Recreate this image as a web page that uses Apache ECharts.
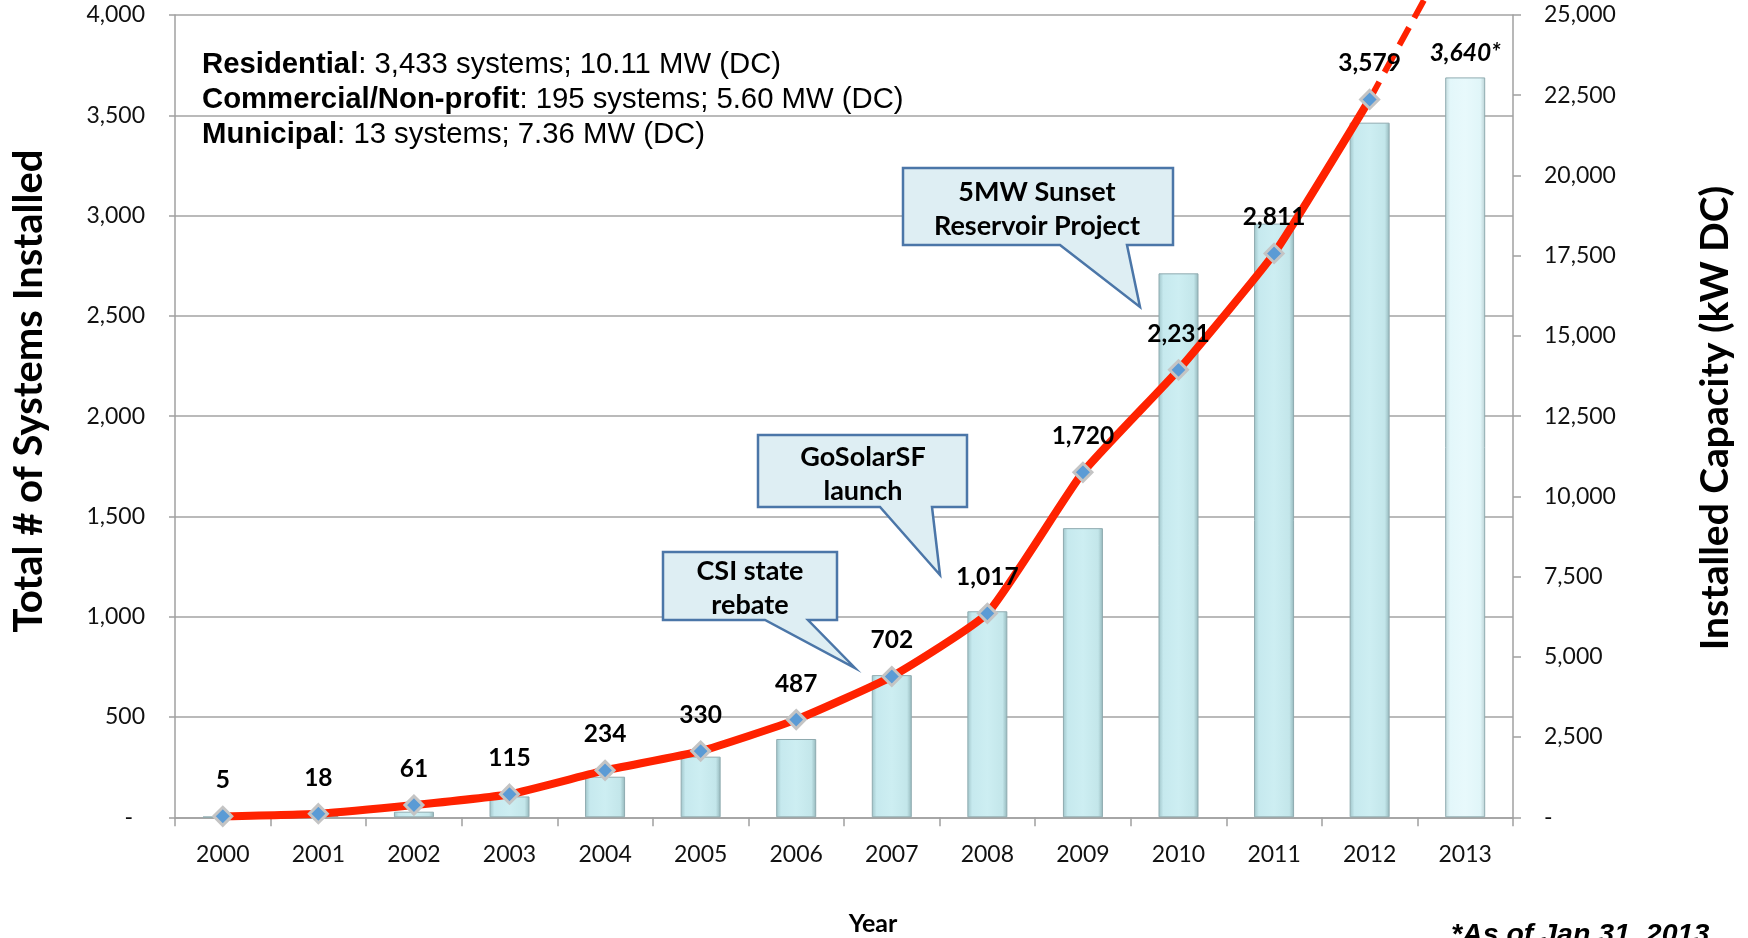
<!DOCTYPE html>
<html>
<head>
<meta charset="utf-8">
<script src="https://cdn.jsdelivr.net/npm/echarts@6/dist/echarts.min.js"></script>
<style>
html,body{margin:0;padding:0;background:#fff;}
#c{width:1748px;height:938px;}
</style>
</head>
<body>
<div id="c"></div>
<script>
// ---- data ----
const years = ['2000','2001','2002','2003','2004','2005','2006','2007','2008','2009','2010','2011','2012','2013'];
const systemsInstalled = [5, 18, 61, 115, 234, 330, 487, 702, 1017, 1720, 2231, 2811, 3579, 3640];
const capacityKW = [15, 50, 175, 650, 1265, 1890, 2440, 4430, 6420, 9010, 16950, 18500, 21645, 23055];
const projection2013 = 4450; // end of hand-drawn dashed trend (runs off the chart top)
const leftTicks = {min: 0, max: 4000, interval: 500};
const rightTicks = {min: 0, max: 25000, interval: 2500};

const fmt = v => v === 0 ? '-' : Number(v).toLocaleString('en-US');
const LAST = years.length - 1;

const chart = echarts.init(document.getElementById('c'), null, {renderer: 'canvas'});

const barGrad = new echarts.graphic.LinearGradient(0, 0, 1, 0, [
  {offset: 0, color: '#9fc4c9'},
  {offset: 0.12, color: '#c6e9ee'},
  {offset: 0.5, color: '#cdeef2'},
  {offset: 0.88, color: '#c3e6ea'},
  {offset: 1, color: '#93b6ba'}
]);
const barGradLight = new echarts.graphic.LinearGradient(0, 0, 1, 0, [
  {offset: 0, color: '#c2dadd'},
  {offset: 0.12, color: '#e3f7fa'},
  {offset: 0.5, color: '#e8f9fc'},
  {offset: 0.88, color: '#e0f5f8'},
  {offset: 1, color: '#b9d0d3'}
]);

const lineData = systemsInstalled.map((v, i) => i < LAST ? v : null);
const lastLabelData = systemsInstalled.map((v, i) => i === LAST ? v : null);
const trendData = systemsInstalled.map((v, i) => i === LAST - 1 ? v : (i === LAST ? projection2013 : null));
const barData = capacityKW.map((v, i) => i === LAST ? {value: v, itemStyle: {color: barGradLight}} : v);

const calibri = 'Lato';
const axisLabelStyle = {fontFamily: calibri, fontSize: 23, color: '#111'};

function callout(points, cx, cy, text) {
  return [
    {type: 'polygon', z: 100, shape: {points: points},
     style: {fill: '#deeef3', stroke: '#4b76a8', lineWidth: 2.5}},
    {type: 'text', z: 101, x: cx, y: cy,
     style: {text: text, fontFamily: calibri, fontWeight: 'bold', fontSize: 27, lineHeight: 34,
             fill: '#000', align: 'center', verticalAlign: 'middle', textAlign: 'center', textVerticalAlign: 'middle'}}
  ];
}

const option = {
  animation: false,
  grid: {left: 175, right: 235, top: 15, bottom: 120.7, containLabel: false},
  xAxis: {
    type: 'category', data: years, boundaryGap: true,
    axisLine: {show: true, lineStyle: {color: '#a0a0a0', width: 1.5}},
    axisTick: {show: true, alignWithLabel: false, length: 9, lineStyle: {color: '#a0a0a0', width: 1.5}},
    axisLabel: Object.assign({margin: 25, lineHeight: 24}, axisLabelStyle),
    splitLine: {show: false}
  },
  yAxis: [
    {
      type: 'value', min: leftTicks.min, max: leftTicks.max, interval: leftTicks.interval,
      axisLine: {show: true, lineStyle: {color: '#a0a0a0', width: 1.5}},
      axisTick: {show: true, length: 6, lineStyle: {color: '#a0a0a0', width: 1.5}},
      splitLine: {show: true, lineStyle: {color: '#a3a3a3', width: 1.5}},
      axisLabel: Object.assign({margin: 30,
        formatter: v => v === 0 ? '{z|-}' : fmt(v),
        rich: {z: {fontFamily: calibri, fontSize: 23, color: '#111', padding: [0, 12, 0, 0]}}
      }, axisLabelStyle)
    },
    {
      type: 'value', min: rightTicks.min, max: rightTicks.max, interval: rightTicks.interval,
      axisLine: {show: true, lineStyle: {color: '#a0a0a0', width: 1.5}},
      axisTick: {show: true, length: 8, lineStyle: {color: '#a0a0a0', width: 1.5}},
      splitLine: {show: false},
      axisLabel: Object.assign({margin: 31, formatter: fmt}, axisLabelStyle)
    }
  ],
  series: [
    {
      name: 'Installed Capacity (kW DC)', type: 'bar', yAxisIndex: 1, data: barData,
      barWidth: 40, z: 2,
      itemStyle: {color: barGrad, borderColor: '#8fabb0', borderWidth: 1}
    },
    {
      name: 'Trend', type: 'line', yAxisIndex: 0, data: trendData, z: 3,
      symbol: 'none', clip: false, connectNulls: false,
      lineStyle: {color: '#ff2200', width: 6, type: [20, 11]}
    },
    {
      name: 'Total # of Systems Installed', type: 'line', yAxisIndex: 0, data: lineData, z: 4,
      smooth: 0.15, connectNulls: false,
      lineStyle: {color: '#ff2200', width: 8},
      symbol: 'diamond', symbolSize: 18,
      itemStyle: {color: '#5b9bd5', borderColor: '#c4c4c4', borderWidth: 3},
      label: {show: true, position: 'top', distance: 13, formatter: p => fmt(p.value),
              fontFamily: calibri, fontWeight: 'bold', fontSize: 24.5, color: '#000'}
    },
    {
      name: '2013 label', type: 'scatter', yAxisIndex: 0, data: lastLabelData, z: 5,
      symbolSize: 18, itemStyle: {color: 'rgba(0,0,0,0)', opacity: 1},
      label: {show: true, position: 'top', distance: 13, formatter: p => fmt(p.value) + '*', opacity: 1,
              fontFamily: calibri, fontWeight: 'bold', fontStyle: 'italic', fontSize: 24.5, color: '#000'}
    }
  ],
  graphic: [
    {type: 'text', x: 202, y: 48, z: 100,
     style: {text: '{b|Residential}: 3,433 systems; 10.11 MW (DC)\n{b|Commercial/Non-profit}: 195 systems; 5.60 MW (DC)\n{b|Municipal}: 13 systems; 7.36 MW (DC)',
             fontFamily: 'Liberation Sans', fontSize: 29.3, lineHeight: 34.6, fill: '#000',
             align: 'left', verticalAlign: 'top',
             rich: {b: {fontFamily: 'Liberation Sans', fontSize: 29.3, fontWeight: 'bold', fill: '#000', lineHeight: 34.6}}}},
    {type: 'text', x: 29, y: 391, rotation: Math.PI / 2, z: 100,
     style: {text: 'Total # of Systems Installed', fontFamily: calibri, fontWeight: 'bold', fontSize: 40,
             fill: '#000', align: 'center', verticalAlign: 'middle', textAlign: 'center', textVerticalAlign: 'middle'}},
    {type: 'text', x: 1715, y: 418, rotation: Math.PI / 2, z: 100,
     style: {text: 'Installed Capacity (kW DC)', fontFamily: calibri, fontWeight: 'bold', fontSize: 39,
             fill: '#000', align: 'center', verticalAlign: 'middle', textAlign: 'center', textVerticalAlign: 'middle'}},
    {type: 'text', x: 873, y: 924, z: 100,
     style: {text: 'Year', fontFamily: calibri, fontWeight: 'bold', fontSize: 25,
             fill: '#000', align: 'center', verticalAlign: 'middle', textAlign: 'center', textVerticalAlign: 'middle'}},
    {type: 'text', x: 1451, y: 935, z: 100,
     style: {text: '*As of Jan 31, 2013', fontFamily: 'Liberation Sans', fontWeight: 'bold', fontStyle: 'italic', fontSize: 28.5,
             fill: '#000', align: 'left', verticalAlign: 'middle', textAlign: 'left', textVerticalAlign: 'middle'}}
  ]
    .concat(callout([[663,552],[837,552],[837,620],[808,620],[855,668],[765,620],[663,620]], 750, 588, 'CSI state\nrebate'))
    .concat(callout([[758,435],[967,435],[967,507],[932,507],[940,575],[880,507],[758,507]], 863, 474, 'GoSolarSF\nlaunch'))
    .concat(callout([[903,168],[1173,168],[1173,245],[1127,245],[1140,307],[1060,245],[903,245]], 1037, 209, '5MW Sunset\nReservoir Project'))
};

chart.setOption(option);
</script>
</body>
</html>
